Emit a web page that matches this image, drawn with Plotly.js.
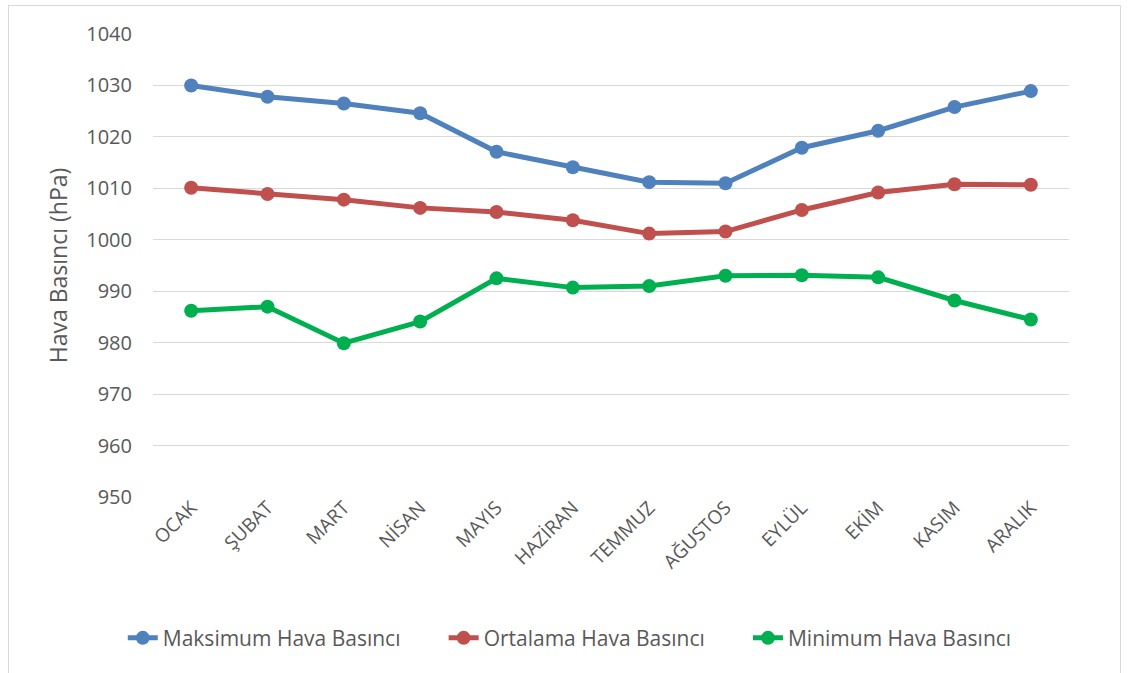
<!DOCTYPE html>
<html><head><meta charset="utf-8">
<script src="https://cdn.plot.ly/plotly-3.0.1.min.js"></script>
<style>html,body{margin:0;padding:0;background:#fff}#c{width:1128px;height:673px}
#frame{position:absolute;left:8px;top:5px;width:1111px;height:700px;border:1px solid #d9d9d9;pointer-events:none}</style>
</head><body><div id="c"></div><div id="frame"></div>
<script>
const months = ["OCAK","ŞUBAT","MART","NİSAN","MAYIS","HAZİRAN","TEMMUZ","AĞUSTOS","EYLÜL","EKİM","KASIM","ARALIK"];
const maxPressure = [1030.0,1027.8,1026.5,1024.6,1017.1,1014.1,1011.2,1011.0,1017.9,1021.2,1025.8,1028.9];
const avgPressure = [1010.1,1008.9,1007.8,1006.2,1005.4,1003.8,1001.2,1001.6,1005.8,1009.2,1010.8,1010.7];
const minPressure = [986.2,987.0,979.9,984.1,992.5,990.7,991.0,993.0,993.1,992.7,988.2,984.5];
const seriesNames = ["Maksimum Hava Basıncı","Ortalama Hava Basıncı","Minimum Hava Basıncı"];
const colors = ["#4F81BD","#C0504D","#00B050"];
const font = "'Open Sans', Lato, sans-serif";
const pad = "\u00A0".repeat(7);
const data = [maxPressure, avgPressure, minPressure].map((v,i)=>({
  x: months, y: v, type:'scatter', mode:'lines+markers', name: seriesNames[i] + (i < 2 ? pad : ''),
  line:{color:colors[i], width:5}, marker:{color:colors[i], size:14}
}));
const layout = {
  width:1128, height:673,
  margin:{l:153, r:59, t:34, b:176},
  paper_bgcolor:'#fff', plot_bgcolor:'#fff',
  font:{family:font, color:'#595959'},
  xaxis:{type:'category', showgrid:false, zeroline:false, showline:false, ticks:'',
    tickangle:-45, tickfont:{size:19, color:'#595959'}, range:[-0.5,11.5], ticklabelstandoff:-5},
  yaxis:{range:[950,1040], dtick:10, showgrid:true, gridcolor:'#d9d9d9', gridwidth:1,
    zeroline:false, showline:false, ticks:'', tickfont:{size:20, color:'#595959'},
    ticklabelstandoff:20,
    title:{text:'Hava Basıncı (hPa)', font:{size:23, color:'#595959'}, standoff:12}},
  legend:{orientation:'h', x:0.455, xanchor:'center', y:-0.305, yanchor:'middle',
    font:{size:21, color:'#595959'}, tracegroupgap:0},
  showlegend:true
};
Plotly.newPlot('c', data, layout, {displayModeBar:false, staticPlot:true});
</script></body></html>
